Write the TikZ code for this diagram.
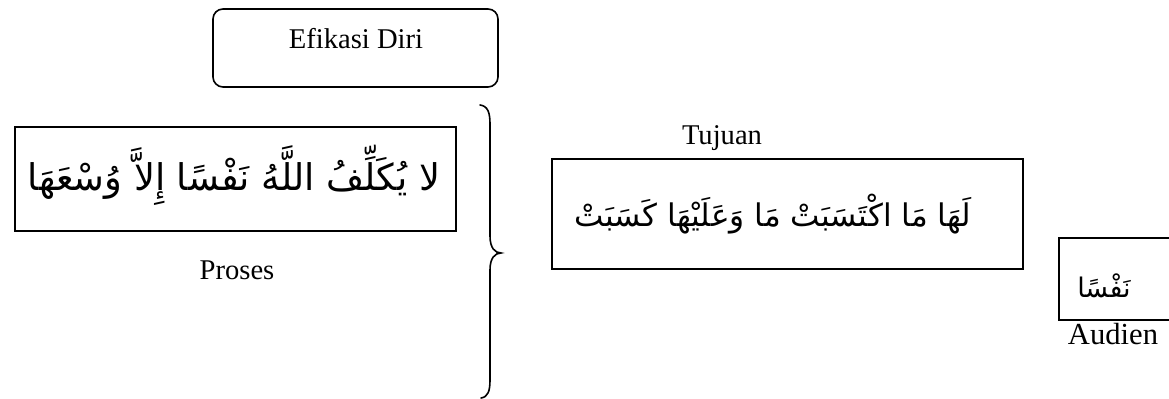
\documentclass[tikz,border=0pt]{standalone}
\usepackage{fontspec}
\setmainfont{Liberation Serif}
\newfontfamily\arabicfont[Script=Arabic]{DejaVu Sans}
\TeXXeTstate=1
\begin{document}
\begin{tikzpicture}[x=0.5pt,y=-0.5pt,
  label/.style={font=\fontsize{14.3}{16}\selectfont,inner sep=0pt,anchor=base},
  ayah/.style={font=\arabicfont\fontsize{17}{20}\selectfont,inner sep=0pt}]
\clip (0,0) rectangle (1169,399);
\fill[white] (0,0) rectangle (1169,399);

% heading box
\draw[line width=0.8pt,rounded corners=5pt] (213,9) rectangle (498,87);
\node[label] (efikasi) at (356,49) {Efikasi Diri};

% process verse
\draw[line width=0.8pt] (15,127) rectangle (456,231);
\node[ayah,font=\arabicfont\fontsize{18.4}{22}\selectfont] (proses-ayah) at (234,175)
  {\beginR لا يُكَلِّفُ اللَّهُ نَفْسًا إِلاَّ وُسْعَهَا\endR};
\node[label] (proses) at (237,280) {Proses};

% brace grouping the process
\draw[line width=0.8pt,line cap=round]
  (480,105) .. controls (488,106) and (490,113) .. (490,124)
  -- (490,236) .. controls (490,248) and (495,253) .. (501,253)
  .. controls (495,253) and (490,258) .. (490,270)
  -- (490,380) .. controls (490,391) and (488,397) .. (481,398);

% goal verse
\node[label] (tujuan) at (722,145) {Tujuan};
\draw[line width=0.8pt] (552,159) rectangle (1023,269);
\node[ayah,font=\arabicfont\fontsize{15.6}{19}\selectfont] (tujuan-ayah) at (773,214)
  {\beginR لَهَا مَا اكْتَسَبَتْ مَا وَعَلَيْهَا كَسَبَتْ\endR};

% audience
\draw[line width=0.8pt] (1059,238) rectangle (1180,320);
\node[ayah,font=\arabicfont\fontsize{13.5}{16}\selectfont] (audien-ayah) at (1104,286) {\beginR نَفْسًا\endR};
\node[label,font=\fontsize{15.3}{17}\selectfont] (audien) at (1113,345) {Audien};
\end{tikzpicture}
\end{document}
